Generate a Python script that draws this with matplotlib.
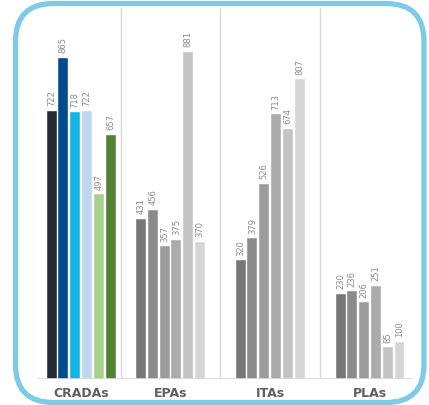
import matplotlib
matplotlib.use('Agg')
import matplotlib.pyplot as plt
from matplotlib.patches import FancyBboxPatch
from matplotlib.transforms import IdentityTransform

# Data
categories = ['CRADAs', 'EPAs', 'ITAs', 'PLAs']
cradas = [722, 865, 718, 722, 497, 657]
epas = [431, 456, 357, 375, 881, 370]
itas = [320, 379, 526, 713, 674, 807]
plas = [230, 236, 206, 251, 85, 100]

# Layout
group_centers = [0.81, 1.705, 2.70, 3.70]
separators = [1.21, 2.20, 3.20]
bar_step = 0.118
bar_width = 0.10

cradas_colors = ['#222a35', '#004b8d', '#13b5e5', '#bdd7ee', '#a9d18e', '#548235']
gray_colors = ['#777777', '#8b8b8b', '#9c9c9c', '#ababab', '#c3c3c3', '#d6d6d6']

fig = plt.figure(figsize=(4.29, 4.06), dpi=100)
ax = fig.add_axes([38 / 429, 26 / 406, 374 / 429, 371.5 / 406])

series = [cradas, epas, itas, plas]
for g, values in enumerate(series):
    colors = cradas_colors if g == 0 else gray_colors
    for i, v in enumerate(values):
        x = group_centers[g] + (i - 2.5) * bar_step
        ax.bar(x, v, width=bar_width, color=colors[i],
               edgecolor='white', linewidth=0.3)
        ax.annotate(str(v), (x, v), xytext=(0, 4), textcoords='offset points',
                    rotation=90, ha='center', va='bottom',
                    fontsize=6, color='#8a8a8a')

for s in separators:
    ax.axvline(s, color='#d9d9d9', linewidth=1)
ax.axhline(0, color='#d9d9d9', linewidth=1.2)

ax.set_xlim(0.38, 4.12)
ax.set_ylim(0, 1000)
for spine in ax.spines.values():
    spine.set_visible(False)
ax.set_yticks([])
ax.set_xticks(group_centers)
ax.set_xticklabels(categories, fontsize=9, fontweight='bold', color='#5f5f5f')
ax.tick_params(axis='x', length=0, pad=5)

# Rounded light blue frame
frame = FancyBboxPatch((15.5, 2.5), 408.5, 399,
                       boxstyle='round,pad=0,rounding_size=38',
                       transform=IdentityTransform(), facecolor='none',
                       edgecolor='#7ecbe8', linewidth=3.8)
fig.patches.append(frame)

plt.savefig('out.png', dpi=100)
